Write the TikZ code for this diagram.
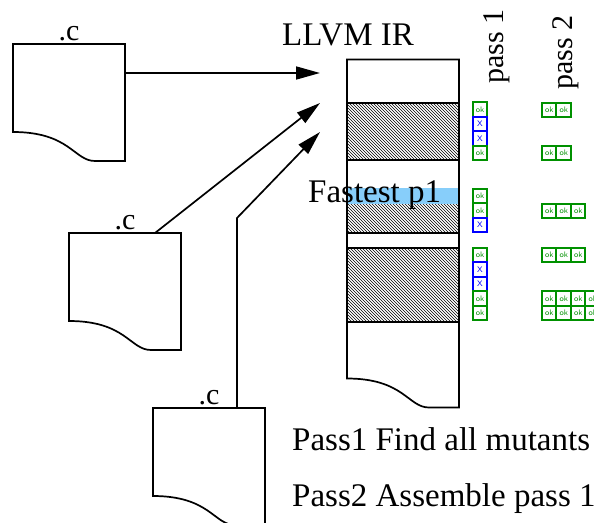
\documentclass[tikz,border=0pt]{standalone}
\usepackage{fontspec}
\setmainfont{Liberation Serif}
\usetikzlibrary{arrows.meta, patterns, positioning}

\definecolor{okgreen}{RGB}{0,145,0}
\definecolor{fastblue}{RGB}{135,206,250}

% outline of a source file: square top, wavy bottom edge
\newcommand{\fileoutline}[1]{%
  \draw[edge] (#1.north west) -- (#1.north east) -- (#1.south east)
    -- ([xshift=-30pt]#1.south east)
    .. controls ([xshift=-51pt]#1.south east) and ([xshift=-55pt,yshift=29pt]#1.south east)
    .. ([yshift=29pt]#1.south west) -- cycle;}

\tikzset{
  edge/.style={line width=1.7pt},
  file/.style={anchor=north west, minimum width=112pt, minimum height=117pt,
    inner sep=0pt, outer sep=0pt, label distance=4pt},
  ctext/.style={font=\fontsize{30}{30}\selectfont},
  big/.style={font=\fontsize{33}{36}\selectfont, inner sep=0pt},
  feed/.style={line width=1.7pt, -{Triangle[length=24pt,width=13pt]}},
  hatch/.style={pattern=north west lines, pattern color=black},
  ok cell/.style={draw=okgreen, line width=2pt, fill=white, minimum size=14.5pt,
    inner sep=0pt, outer sep=0pt, text=okgreen, font=\fontsize{8}{8}\selectfont\sffamily},
  X cell/.style={ok cell, draw=blue, text=blue},
}

\begin{document}
\begin{tikzpicture}[x=1pt, y=-1pt]
    \useasboundingbox (0,0) rectangle (594,522);

    % the three .c files
    \node[file, label={[ctext]above:.c}] (f1) at (13,44) {};
    \node[file, label={[ctext]above:.c}] (f2) at (69,233) {};
    \node[file, label={[ctext]above:.c}] (f3) at (153,408) {};
    \fileoutline{f1}
    \fileoutline{f2}
    \fileoutline{f3}

    % the IR column
    \node[file, minimum height=348pt] (ir) at (347,59.5) {};
    \path[hatch] (347,103) rectangle (459,160);
    \fill[fastblue] (347,188) rectangle (459,204);
    \path[hatch] (347,204) rectangle (459,233);
    \path[hatch] (347,248) rectangle (459,322);
    \draw[edge] (347,103) -- (459,103)
        (347,160) -- (459,160)
        (347,233) -- (459,233)
        (347,248) -- (459,248)
        (347,322) -- (459,322);
    \fileoutline{ir}

    \coordinate (tip1) at (320,73);
    \coordinate (tip2) at (320,103);
    \coordinate (tip3) at (320,132);
    \draw[feed] ([yshift=-29pt]f1.north east) -- (tip1);
    \draw[feed] ([xshift=86pt]f2.north west) -- (tip2);
    \draw[feed] ([xshift=84pt]f3.north west) -- ++(0,-190) -- (tip3);

    % pass 1 results
    \foreach \y/\k [count=\i] in {109.7/ok, 124.2/X, 138.7/X, 153.2/ok,
            196.2/ok, 210.7/ok, 225.2/X,
            255.2/ok, 269.7/X, 284.2/X, 298.7/ok, 313.2/ok}
        \node[\k\space cell] (pa\i) at (480,\y) {\k};

    % pass 2 results
    \foreach \y/\n [count=\r] in {110/2, 153.2/2, 211/3, 255.2/3, 298.7/4, 313.2/4}
        \foreach \c in {1,...,\n}
            \node[ok cell] (pb\r\c) at ({534.7+14.5*\c},\y) {ok};

    \node[big, anchor=base] (irname) at (348,45) {LLVM IR};
    \node[big, anchor=base west] (fast) at (308,202) {Fastest p1};
    \node[ctext, inner sep=0pt, rotate=90, anchor=base west] (col1) at (503,84) {pass 1};
    \node[ctext, inner sep=0pt, rotate=90, anchor=base west] (col2) at (572,90) {pass 2};
    \node[big, anchor=base west] (step1) at (292,450) {Pass1 Find all mutants};
    \node[big, anchor=base west] (step2) at (292,506) {Pass2 Assemble pass 1};
\end{tikzpicture}
\end{document}
